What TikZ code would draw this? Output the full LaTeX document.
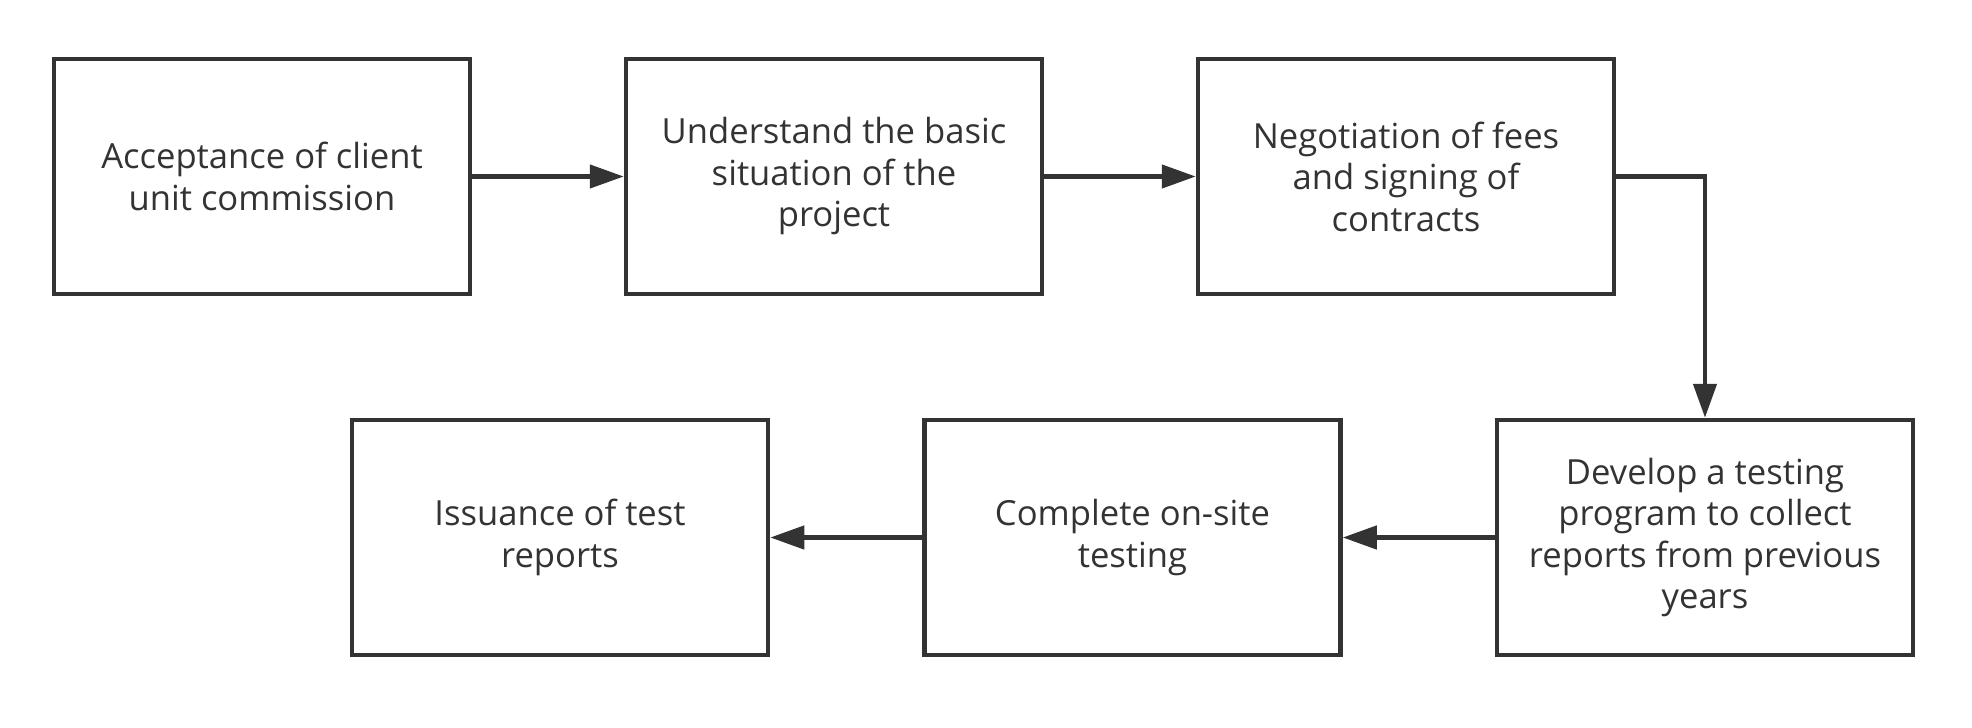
\documentclass[tikz,border=0pt]{standalone}
\usepackage{fontspec}
\setmainfont{Open Sans}
\usetikzlibrary{arrows.meta}
\definecolor{ink}{HTML}{333333}
\tikzset{
  stepbox/.style={draw=ink, line width=2.25pt, minimum width=208pt, minimum height=117.5pt,
    inner sep=0pt, align=center, text=ink, font=\fontsize{17.3}{20.75}\selectfont},
  flow/.style={draw=ink, line width=2.25pt, -{Triangle[length=17pt,width=11.5pt]}}
}
\begin{document}
\begin{tikzpicture}[x=0.5pt,y=-0.5pt]
\useasboundingbox (0,0) rectangle (1972,728);
\node[stepbox] (a) at (262,176.5) {Acceptance of client\\unit commission};
\node[stepbox] (b) at (834,176.5) {Understand the basic\\situation of the\\project};
\node[stepbox] (c) at (1406,176.5) {Negotiation of fees\\and signing of\\contracts};
\node[stepbox] (d) at (1705,537.5) {Develop a testing\\program to collect\\reports from previous\\years};
\node[stepbox] (e) at (1132.5,537.5) {Complete on-site\\testing};
\node[stepbox] (f) at (560,537.5) {Issuance of test\\reports};
\draw[flow] (a) -- (b);
\draw[flow] (b) -- (c);
\draw[flow] (c.east) -| (d.north);
\draw[flow] (d) -- (e);
\draw[flow] (e) -- (f);
\end{tikzpicture}
\end{document}
